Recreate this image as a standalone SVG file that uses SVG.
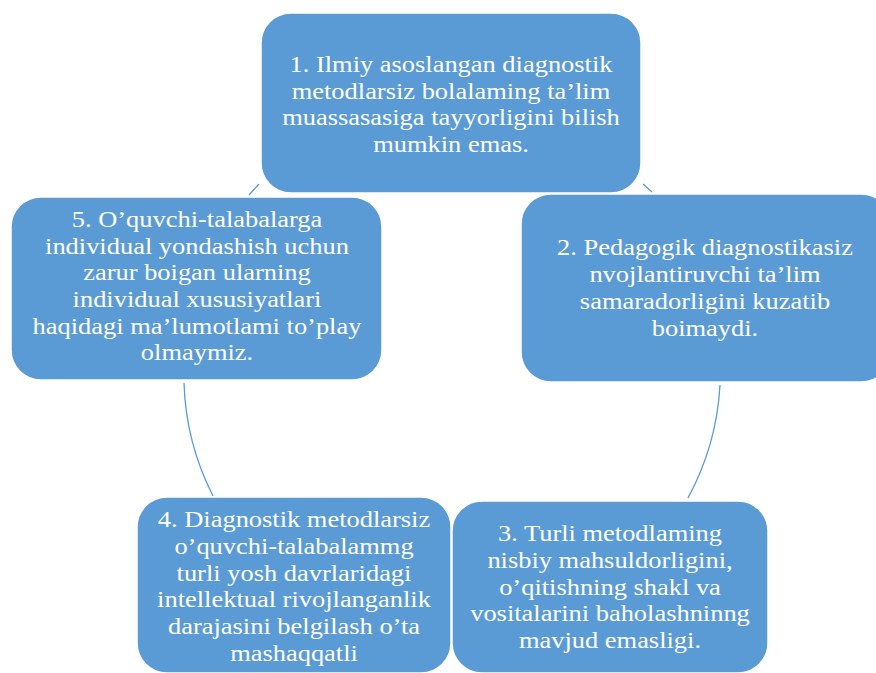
<svg xmlns="http://www.w3.org/2000/svg" width="876" height="673" viewBox="0 0 876 673">
<style>
.box{fill:#5b9bd5;stroke:#ffffff;stroke-width:1.5}
.c{fill:none;stroke:#5b9bd5;stroke-width:1.3}
.t{font-family:"Liberation Serif","Times New Roman",Times,serif;font-size:23px;fill:#ffffff;text-anchor:middle}
</style>
<rect width="876" height="673" fill="#ffffff"/>
<g id="connectors">
<path class="c" d="M 643 184 A 268 268 0 0 1 652 192"/>
<path class="c" d="M 720 385 A 268 268 0 0 1 688 498"/>
<path class="c" d="M 213 496 A 268 268 0 0 1 184 383"/>
<path class="c" d="M 249 195 A 268 268 0 0 1 259 184"/>
</g>
<g id="node1">
<rect class="box" x="261" y="13" width="380" height="180" rx="30"/>
<g class="t" transform="translate(451 0) scale(1.15 1)">
<text x="0" y="72">1. Ilmiy asoslangan diagnostik</text>
<text x="0" y="98.7">metodlarsiz bolalaming ta’lim</text>
<text x="0" y="125.4">muassasasiga tayyorligini bilish</text>
<text x="0" y="152">mumkin emas.</text>
</g>
</g>
<g id="node2">
<rect class="box" x="521" y="194" width="370" height="188" rx="30"/>
<g class="t" transform="translate(705 0) scale(1.15 1)">
<text x="0" y="255">2. Pedagogik diagnostikasiz</text>
<text x="0" y="282">nvojlantiruvchi ta’lim</text>
<text x="0" y="309">samaradorligini kuzatib</text>
<text x="0" y="336">boimaydi.</text>
</g>
</g>
<g id="node3">
<rect class="box" x="452" y="501" width="316" height="172" rx="30"/>
<g class="t" transform="translate(610 0) scale(1.15 1)">
<text x="0" y="541">3. Turli metodlaming</text>
<text x="0" y="568">nisbiy mahsuldorligini,</text>
<text x="0" y="595">o’qitishning shakl va</text>
<text x="0" y="621">vositalarini baholashninng</text>
<text x="0" y="648">mavjud emasligi.</text>
</g>
</g>
<g id="node4">
<rect class="box" x="137" y="497" width="314" height="176" rx="30"/>
<g class="t" transform="translate(294 0) scale(1.15 1)">
<text x="0" y="527">4. Diagnostik metodlarsiz</text>
<text x="0" y="554">o’quvchi-talabalammg</text>
<text x="0" y="581">turli yosh davrlaridagi</text>
<text x="0" y="607">intellektual rivojlanganlik</text>
<text x="0" y="634">darajasini belgilash o’ta</text>
<text x="0" y="661">mashaqqatli</text>
</g>
</g>
<g id="node5">
<rect class="box" x="11" y="197" width="371" height="183" rx="30"/>
<g class="t" transform="translate(197 0) scale(1.15 1)">
<text x="0" y="227">5. O’quvchi-talabalarga</text>
<text x="0" y="253.7">individual yondashish uchun</text>
<text x="0" y="280.4">zarur boigan ularning</text>
<text x="0" y="307">individual xususiyatlari</text>
<text x="0" y="334">haqidagi ma’lumotlami to’play</text>
<text x="0" y="360.5">olmaymiz.</text>
</g>
</g>
</svg>
